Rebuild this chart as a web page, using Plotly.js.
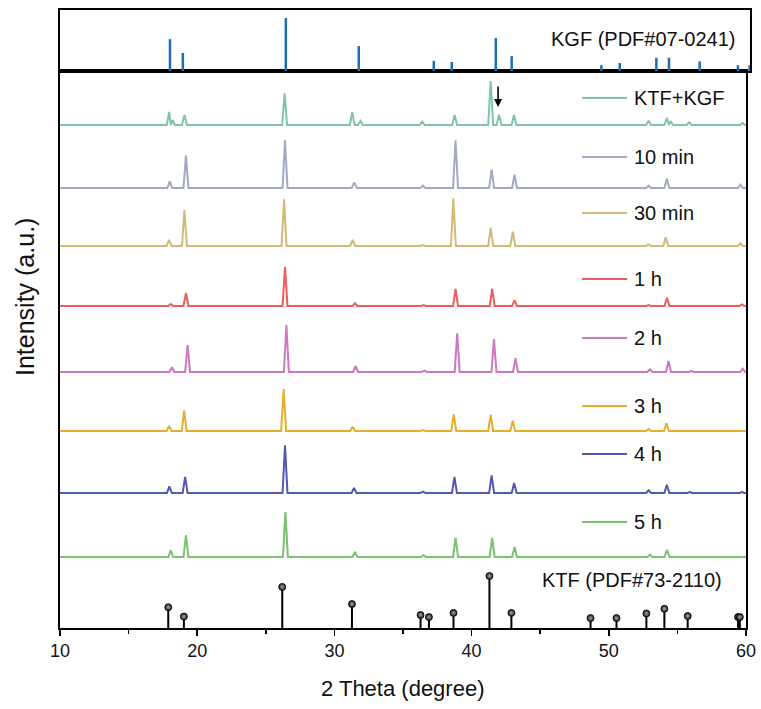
<!DOCTYPE html>
<html>
<head>
<meta charset="utf-8">
<script src="https://cdn.plot.ly/plotly-3.0.1.min.js"></script>
<style>html,body{margin:0;padding:0;background:#fff;}</style>
</head>
<body>
<div id="chart" style="width:761px;height:709px;"></div>
<script>
// ---------- DATA ----------
// Sample names, top to bottom
const sampleNames = ['KTF+KGF', '10 min', '30 min', '1 h', '2 h', '3 h', '4 h', '5 h'];
// Vertical offsets of each pattern (a.u.)
const sampleOffsets = [503, 440, 382, 322, 256, 197, 135, 71];
// Legend label heights (a.u.)
const legendY = [530, 471, 415, 349, 290, 222, 174, 106];

// Peak positions (2θ) and peak heights (a.u.) for each measured pattern
const pos_KTFKGF = [17.96, 18.2, 19.07, 26.37, 31.3, 31.9, 36.4, 38.76, 41.39, 42.0, 43.09, 52.9, 54.23, 54.5, 55.86, 59.75];
const int_KTFKGF = [13, 5, 10, 31.7, 12.7, 4, 3.3, 10, 44, 10, 10, 4.3, 7.3, 4, 2.7, 2];

const pos_10min = [18.0, 19.18, 26.4, 31.45, 36.45, 38.83, 41.46, 43.13, 52.9, 54.23, 59.6];
const int_10min = [6.7, 32.3, 47.7, 5.7, 2.3, 47.7, 18.3, 13.3, 2.3, 9.3, 3.3];

const pos_30min = [17.95, 19.07, 26.33, 31.33, 36.45, 38.67, 41.39, 43.0, 52.9, 54.15, 59.6];
const int_30min = [6, 36, 46.7, 6, 1, 47.7, 18.3, 14.3, 1.7, 8.7, 2.7];

const pos_1h = [18.07, 19.18, 26.4, 31.5, 36.5, 38.83, 41.5, 43.13, 52.9, 54.24, 59.7];
const int_1h = [2, 12.7, 39.3, 2.7, 1, 17, 17, 5.7, 1, 8.3, 1.5];

const pos_2h = [18.15, 19.3, 26.5, 31.55, 36.55, 38.95, 41.63, 43.2, 53.0, 54.35, 56.0, 59.76];
const int_2h = [4.7, 27, 47, 6, 1.3, 38.7, 33, 13.7, 2.7, 11, 1, 3.3];

const pos_3h = [17.95, 19.05, 26.3, 31.33, 36.45, 38.7, 41.39, 43.0, 52.9, 54.2];
const int_3h = [5, 20.3, 42, 4.3, 1, 16.7, 16, 10.3, 2, 7.7];

const pos_4h = [17.97, 19.12, 26.4, 31.43, 36.45, 38.75, 41.46, 43.1, 52.9, 54.23, 55.9, 59.7];
const int_4h = [6.7, 16, 47.7, 5, 1.3, 16, 17.7, 10, 2.7, 8.3, 1, 1];

const pos_5h = [18.07, 19.18, 26.43, 31.5, 36.5, 38.83, 41.5, 43.13, 53.0, 54.24];
const int_5h = [6.7, 21.7, 45, 5, 1.7, 19.3, 19, 10, 2.3, 7.3];

// Reference card KTF (PDF#73-2110): 2θ and relative intensity (%)
const ktfPos = [17.89, 19.03, 26.2, 31.28, 36.28, 36.89, 38.68, 41.3, 42.9, 48.67, 50.56, 52.74, 54.05, 55.75, 59.42, 59.55];
const ktfInt = [40, 22, 79, 46, 25, 21, 29, 100, 29, 19, 19, 28, 37, 23, 21, 21];

// Reference card KGF (PDF#07-0241): 2θ and relative intensity (%)
const kgfPos = [18.02, 18.96, 26.47, 31.79, 37.26, 38.57, 41.78, 42.94, 49.48, 50.82, 53.49, 54.41, 56.65, 59.44, 60.29];
const kgfInt = [60, 34, 100, 47, 19, 17, 62, 28, 11, 15, 25, 25, 18, 11, 11];

// ---------- STYLE ----------
const sampleColors = ['#7fc4aa', '#a3a9c2', '#d2b978', '#ee5c5e', '#cc79c2', '#e6ae2c', '#5558b0', '#7cc172'];
const FONT = 'Arial, "Liberation Sans", sans-serif';
const KTF_SCALE = 0.52;   // a.u. per % for stick pattern in main panel
const HALF = 0.18;        // half base-width of drawn peaks (deg)

const samplePos = [pos_KTFKGF, pos_10min, pos_30min, pos_1h, pos_2h, pos_3h, pos_4h, pos_5h];
const sampleInt = [int_KTFKGF, int_10min, int_30min, int_1h, int_2h, int_3h, int_4h, int_5h];

function buildProfile(pos, inten, base) {
  const xs = [10], ys = [base];
  let prevRight = -Infinity;
  pos.forEach((p, i) => {
    let left = p - HALF;
    if (left < prevRight) {
      // overlapping peaks: merge into one valley point
      const mid = (xs[xs.length - 1] + left) / 2;
      xs[xs.length - 1] = Math.max(mid, xs[xs.length - 2] + 0.01);
    } else {
      xs.push(left); ys.push(base);
    }
    xs.push(p); ys.push(base + inten[i]);
    xs.push(p + HALF); ys.push(base);
    prevRight = p + HALF;
  });
  xs.push(60); ys.push(base);
  return {xs, ys};
}

const traces = [];
sampleNames.forEach((name, i) => {
  const pr = buildProfile(samplePos[i], sampleInt[i], sampleOffsets[i]);
  traces.push({
    x: pr.xs, y: pr.ys, type: 'scatter', mode: 'lines', name: name,
    line: {color: sampleColors[i], width: 2}, xaxis: 'x', yaxis: 'y', hoverinfo: 'skip'
  });
});

// KTF sticks
const ktfX = [], ktfY = [];
ktfPos.forEach((p, i) => { ktfX.push(p, p, null); ktfY.push(0, ktfInt[i] * KTF_SCALE, null); });
traces.push({x: ktfX, y: ktfY, type: 'scatter', mode: 'lines', line: {color: '#000', width: 2}, xaxis: 'x', yaxis: 'y', hoverinfo: 'skip'});
traces.push({
  x: ktfPos, y: ktfInt.map(v => v * KTF_SCALE), type: 'scatter', mode: 'markers',
  marker: {size: 7, color: '#1a1a1a', line: {color: '#000', width: 0.8}, gradient: {type: 'radial', color: '#a8a8a8'}},
  xaxis: 'x', yaxis: 'y', hoverinfo: 'skip'
});

// KGF sticks (top panel)
const kgfX = [], kgfY = [];
kgfPos.forEach((p, i) => { kgfX.push(p, p, null); kgfY.push(0, kgfInt[i], null); });
traces.push({x: kgfX, y: kgfY, type: 'scatter', mode: 'lines', line: {color: '#1f6eb0', width: 2.5}, xaxis: 'x2', yaxis: 'y2', hoverinfo: 'skip'});

// ---------- LAYOUT ----------
const W = 761, H = 709;
const mL = 60, mR = 11, mT = 10, mB = 81;
const plotW = W - mL - mR;           // 690
const plotH = H - mT - mB;           // 618
const mainRight = 686 / plotW;
const mainTop = 557 / plotH;

const annotations = [];
const shapes = [];
sampleNames.forEach((name, i) => {
  shapes.push({type: 'line', xref: 'x', yref: 'y', x0: 48.05, x1: 51.33, y0: legendY[i], y1: legendY[i],
               line: {color: sampleColors[i], width: 2}});
  annotations.push({xref: 'x', yref: 'y', x: 51.72, y: legendY[i], text: name, showarrow: false,
                    xanchor: 'left', yanchor: 'middle', font: {family: FONT, size: 20, color: '#111'}});
});
annotations.push({xref: 'x', yref: 'y', x: 58.4, y: 48, text: 'KTF (PDF#73-2110)', showarrow: false,
                  xanchor: 'right', yanchor: 'middle', font: {family: FONT, size: 20, color: '#111'}});
annotations.push({xref: 'x2', yref: 'y2', x: 59.42, y: 60, text: 'KGF (PDF#07-0241)', showarrow: false,
                  xanchor: 'right', yanchor: 'middle', font: {family: FONT, size: 20, color: '#111'}});
// arrow marking the KGF peak
annotations.push({xref: 'x', yref: 'y', x: 41.93, y: 521, text: '', showarrow: true, ax: 0, ay: -22,
                  arrowhead: 2, arrowsize: 1, arrowwidth: 1.6, arrowcolor: '#000'});
// axis titles
annotations.push({xref: 'paper', yref: 'paper', x: 0.497, y: (628 - 688) / plotH, text: '2 Theta (degree)',
                  showarrow: false, xanchor: 'center', yanchor: 'middle', font: {family: FONT, size: 22, color: '#111'}});
annotations.push({xref: 'paper', yref: 'paper', x: (25 - mL) / plotW, y: (628 - 297) / plotH, text: 'Intensity (a.u.)',
                  textangle: -90, showarrow: false, xanchor: 'center', yanchor: 'middle', font: {family: FONT, size: 25, color: '#111'}});

const layout = {
  width: W, height: H,
  margin: {l: mL, r: mR, t: mT, b: mB, pad: 0},
  paper_bgcolor: '#fff', plot_bgcolor: '#fff',
  showlegend: false,
  font: {family: FONT, color: '#111'},
  xaxis: {
    domain: [0, mainRight], anchor: 'y', range: [10, 60],
    showline: true, mirror: true, linecolor: '#000', linewidth: 1.6,
    showgrid: false, zeroline: false,
    ticks: 'outside', ticklen: 6, tickwidth: 1.5, tickcolor: '#000', dtick: 10, tick0: 10,
    minor: {dtick: 5, tick0: 10, ticks: 'outside', ticklen: 4, tickwidth: 1.5, tickcolor: '#000', showgrid: false},
    tickfont: {family: FONT, size: 18, color: '#111'}
  },
  yaxis: {
    domain: [0, mainTop], anchor: 'x', range: [0, 557],
    showline: true, mirror: true, linecolor: '#000', linewidth: 1.6,
    showgrid: false, zeroline: false, ticks: '', showticklabels: false
  },
  xaxis2: {
    domain: [0, 1], anchor: 'y2', range: [10, 60.32],
    showline: true, mirror: true, linecolor: '#000', linewidth: 1.6,
    showgrid: false, zeroline: false, ticks: '', showticklabels: false
  },
  yaxis2: {
    domain: [mainTop, 1], anchor: 'x2', range: [0, 115],
    showline: true, mirror: true, linecolor: '#000', linewidth: 1.6,
    showgrid: false, zeroline: false, ticks: '', showticklabels: false
  },
  annotations: annotations,
  shapes: shapes
};

Plotly.newPlot('chart', traces, layout, {displayModeBar: false, staticPlot: true});
</script>
</body>
</html>
